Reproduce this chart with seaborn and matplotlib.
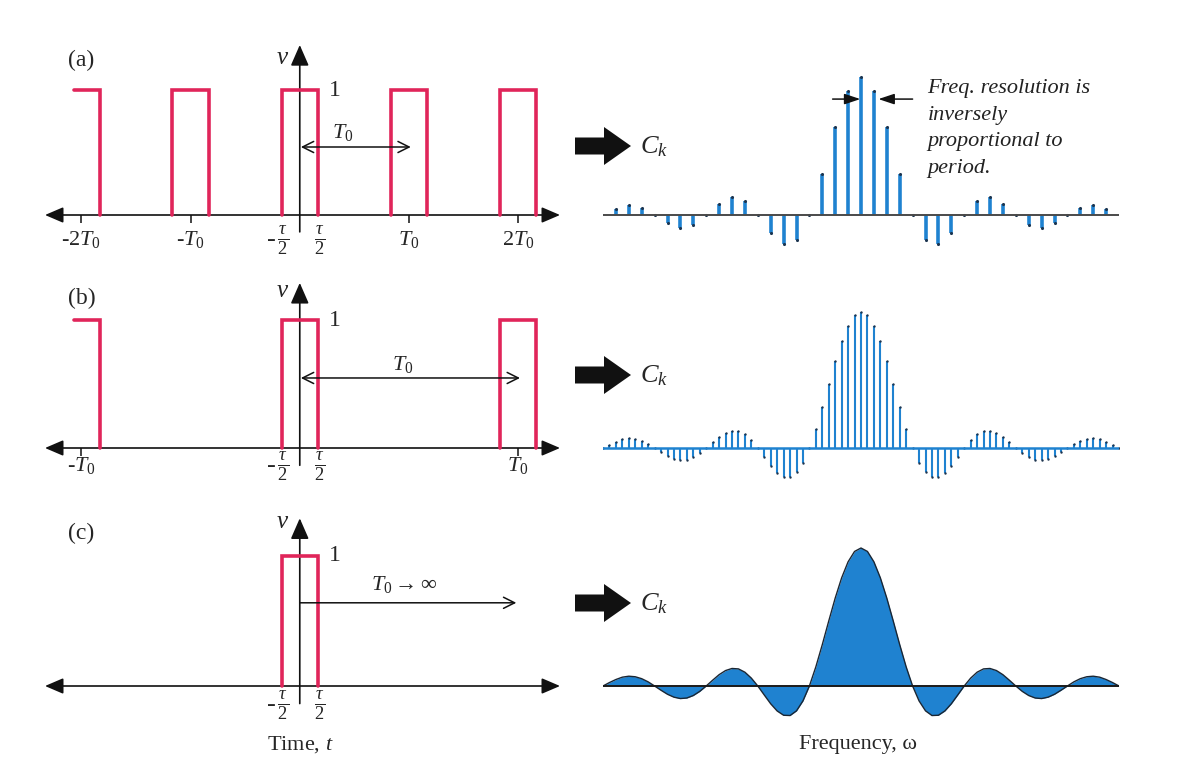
import matplotlib
matplotlib.use('Agg')
import matplotlib.pyplot as plt
from matplotlib.patches import FancyArrow
import numpy as np
import seaborn as sns

# time domain: pulse width tau = 1, periods in units of tau
tau = 1.0
t_start = -6.2
a_centers = [-6, -3, 0, 3, 6]
b_centers = [-6, 0, 6]
c_centers = [0]
a_ticks = [-6, -3, 3, 6]
a_tick_labels = ['-2$T_0$', '-$T_0$', '$T_0$', '2$T_0$']
b_ticks = [-6, 6]
b_tick_labels = ['-$T_0$', '$T_0$']

# spectra, k = 0 .. right end (picture is symmetric)
a_half = [1.0, 0.900, 0.637, 0.300, 0.0, -0.180, -0.212, -0.129, 0.0,
          0.100, 0.127, 0.082, 0.0, -0.069, -0.091, -0.060, 0.0,
          0.053, 0.071, 0.047]
b_half = [1.0, 0.975, 0.900, 0.784, 0.637, 0.471, 0.300, 0.139, 0.0,
          -0.108, -0.180, -0.214, -0.212, -0.181, -0.129, -0.065, 0.0,
          0.057, 0.100, 0.124, 0.127, 0.112, 0.082, 0.042, 0.0,
          -0.039, -0.069, -0.087, -0.091, -0.081, -0.060, -0.031, 0.0,
          0.030, 0.053, 0.067, 0.071, 0.064, 0.047, 0.025, 0.0]

a_vals = np.array(a_half[:0:-1] + a_half)
a_x = np.arange(len(a_vals)) - (len(a_half) - 1)
b_vals = np.array(b_half[:0:-1] + b_half)
b_x = (np.arange(len(b_vals)) - (len(b_half) - 1)) / 2
c_x, c_vals = b_x, b_vals

PULSE = '#e0255a'
BLUE = '#1f82d0'
DOT = '#1c3550'

sns.set_theme(style='white')
plt.rcParams['font.family'] = ['Liberation Serif', 'DejaVu Serif']
plt.rcParams['mathtext.fontset'] = 'custom'
plt.rcParams['mathtext.rm'] = 'Liberation Serif'
plt.rcParams['mathtext.it'] = 'Liberation Serif:italic'
plt.rcParams['mathtext.bf'] = 'Liberation Serif:bold'

W, H = 1204, 773
fig = plt.figure(figsize=(W / 100, H / 100), dpi=100)
fig.patch.set_facecolor('white')


def add_panel(px_left, px_right, xlim, base_px, unit_px, top_px, bottom_px):
    ax = fig.add_axes([px_left / W, 1 - bottom_px / H,
                       (px_right - px_left) / W, (bottom_px - top_px) / H])
    ax.set_xlim(xlim)
    ax.set_ylim((base_px - bottom_px) / unit_px, (base_px - top_px) / unit_px)
    ax.axis('off')
    return ax


def draw_time(ax, centers, vtop, nu_y, ticks=(), tick_labels=(), tick_y=-0.2, frac_y=-0.2):
    for c in centers:
        l, r = c - tau / 2, c + tau / 2
        if l < t_start:
            xs, ys = [t_start, r, r], [1, 1, 0]
        else:
            xs, ys = [l, l, r, r], [0, 1, 1, 0]
        ax.plot(xs, ys, color=PULSE, lw=2.6, solid_joinstyle='miter', zorder=3)
    x0, x1 = ax.get_xlim()
    ax.annotate('', xy=(x1, 0), xytext=(x0, 0),
                arrowprops=dict(arrowstyle='<|-|>,head_length=0.7,head_width=0.3',
                                color='#111111', lw=1.2, mutation_scale=16,
                                shrinkA=0, shrinkB=0), zorder=2)
    ax.annotate('', xy=(0, vtop), xytext=(0, -0.135),
                arrowprops=dict(arrowstyle='-|>,head_length=0.8,head_width=0.35',
                                color='#111111', lw=1.2, mutation_scale=16,
                                shrinkA=0, shrinkB=0), zorder=2)
    if len(ticks):
        ax.vlines(ticks, -0.06, 0, color='#111111', lw=1.1)
    for t, lab in zip(ticks, tick_labels):
        ax.text(t, tick_y, lab, ha='center', va='center', fontsize=16)
    ax.text(-0.62, frac_y, r'-$\,\frac{\tau}{2}$', ha='center', va='center', fontsize=19)
    ax.text(0.55, frac_y, r'$\frac{\tau}{2}$', ha='center', va='center', fontsize=19)
    ax.text(-0.47, nu_y, r'$\nu$', ha='center', va='center', fontsize=18)
    ax.text(0.8, 1.0, '1', ha='left', va='center', fontsize=17)


def draw_stems(ax, x, vals, lw, dot_s, base_color, base_lw):
    ax.vlines(x, 0, vals, color=BLUE, lw=lw, zorder=2)
    sns.scatterplot(x=x, y=vals, ax=ax, color=DOT, s=dot_s, linewidth=0, zorder=3, legend=False)
    ax.plot([-20, 20], [0, 0], color=base_color, lw=base_lw, zorder=4)
    ax.axis('off')


L_PX, R_PX = (45, 560), (603, 1119)
T_LIM, F_LIM = (-7.0, 7.15), (-20, 20)

# row (a)
ax = add_panel(*L_PX, T_LIM, 215, 125, 25, 265)
draw_time(ax, a_centers, 1.36, 1.26, a_ticks, a_tick_labels, tick_y=-0.2, frac_y=-0.2)
ax.annotate('', xy=(3.05, 0.544), xytext=(0.03, 0.544),
            arrowprops=dict(arrowstyle='<->,head_length=0.5,head_width=0.25',
                            color='#111111', lw=1.1, mutation_scale=16, shrinkA=0, shrinkB=0))
ax.text(1.18, 0.66, '$T_0$', ha='center', va='center', fontsize=16)

ax = add_panel(*R_PX, F_LIM, 215, 138, 25, 265)
draw_stems(ax, a_x, a_vals, 2.6, 5, '#4a4a4a', 1.4)
ax.annotate('', xy=(-0.05, 0.84), xytext=(-2.2, 0.84),
            arrowprops=dict(arrowstyle='-|>,head_length=0.6,head_width=0.2',
                            color='#111111', lw=1.1, mutation_scale=16, shrinkA=0, shrinkB=0))
ax.annotate('', xy=(1.35, 0.84), xytext=(4.0, 0.84),
            arrowprops=dict(arrowstyle='-|>,head_length=0.6,head_width=0.2',
                            color='#111111', lw=1.1, mutation_scale=16, shrinkA=0, shrinkB=0))
ax.text(5.15, 0.985, 'Freq. resolution is\ninversely\nproportional to\nperiod.',
        ha='left', va='top', fontsize=16, style='italic', linespacing=1.55, color='#222222')

# row (b)
ax = add_panel(*L_PX, T_LIM, 448, 128, 270, 500)
draw_time(ax, b_centers, 1.29, 1.23, b_ticks, b_tick_labels, tick_y=-0.135, frac_y=-0.14)
ax.annotate('', xy=(6.05, 0.547), xytext=(0.03, 0.547),
            arrowprops=dict(arrowstyle='<->,head_length=0.5,head_width=0.25',
                            color='#111111', lw=1.1, mutation_scale=16, shrinkA=0, shrinkB=0))
ax.text(2.83, 0.65, '$T_0$', ha='center', va='center', fontsize=16)

ax = add_panel(*R_PX, F_LIM, 448, 136, 270, 500)
draw_stems(ax, b_x, b_vals, 1.5, 3, BLUE, 1.8)

# row (c)
ax = add_panel(*L_PX, T_LIM, 686, 130, 505, 770)
draw_time(ax, c_centers, 1.29, 1.26, frac_y=-0.146)
ax.annotate('', xy=(5.95, 0.64), xytext=(0.0, 0.64),
            arrowprops=dict(arrowstyle='->,head_length=0.5,head_width=0.25',
                            color='#111111', lw=1.1, mutation_scale=16, shrinkA=0, shrinkB=0))
ax.text(2.88, 0.78, r'$T_0 \rightarrow \infty$', ha='center', va='center', fontsize=16)

ax = add_panel(*R_PX, F_LIM, 686, 138, 505, 770)
ax.fill_between(c_x, 0, c_vals, color=BLUE, lw=0, zorder=1)
sns.lineplot(x=c_x, y=c_vals, ax=ax, color='#1a2633', lw=1.0, zorder=2)
ax.plot([-20, 20], [0, 0], color='#1a1a1a', lw=1.4, zorder=3)
ax.axis('off')

# overlay in pixel coordinates for labels and block arrows
ov = fig.add_axes([0, 0, 1, 1], zorder=-1)
ov.set_xlim(0, W)
ov.set_ylim(H, 0)
ov.axis('off')
for lab, y in zip(['(a)', '(b)', '(c)'], [60, 298, 533]):
    ov.text(68, y, lab, ha='left', va='center', fontsize=17)
for y in [146, 375, 603]:
    ov.add_patch(FancyArrow(575, y, 56, 0, width=17, head_width=38, head_length=27,
                            length_includes_head=True, color='#111111', lw=0))
    ov.text(640, y + 1, '$C_k$', ha='left', va='center', fontsize=19)
ov.text(300, 745, 'Time, $t$', ha='center', va='center', fontsize=16)
ov.text(858, 745, 'Frequency, ω', ha='center', va='center', fontsize=16)

fig.savefig('out.png', dpi=100, facecolor='white')
